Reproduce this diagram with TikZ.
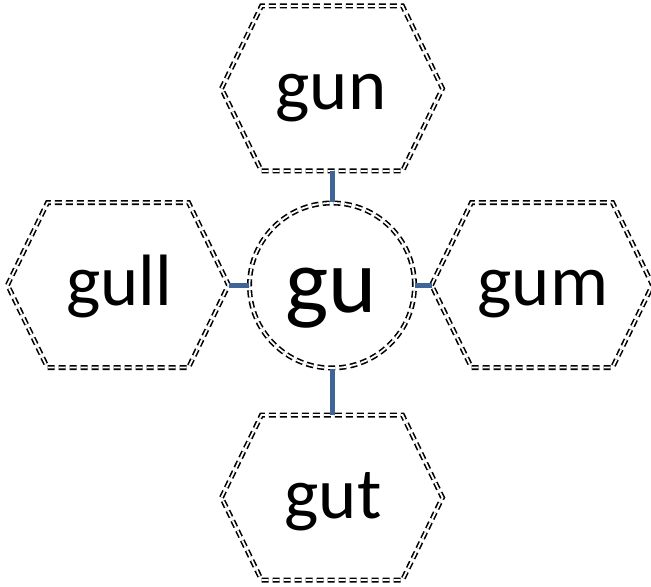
\documentclass[tikz,border=0pt]{standalone}
\usepackage{fontspec}
\setmainfont{Carlito}
\definecolor{linkblue}{RGB}{62,100,152}
\tikzset{
  dd/.style={draw=black, line width=1.6bp, double=white, double distance=1.8bp, dash pattern=on 7bp off 4bp},
  lbl/.style={font=\fontsize{73}{78}\selectfont, inner sep=0pt, anchor=base},
  link/.style={draw=linkblue, line width=5bp},
}
\newcommand\hexshape[3]{%
  \begin{scope}[shift={(#1,#2)}]
    \draw[dd] (-110.5,0) -- (-70.5,-82.5) -- (70.5,-82.5) -- (110.5,0) -- (70.5,82.5) -- (-70.5,82.5) -- cycle;
    \coordinate (#3-n) at (0,-82.5);
    \coordinate (#3-s) at (0,82.5);
    \coordinate (#3-w) at (-110.5,0);
    \coordinate (#3-e) at (110.5,0);
  \end{scope}}
\begin{document}
\begin{tikzpicture}[x=1bp,y=-1bp]
\useasboundingbox (0,0) rectangle (651,587);
\hexshape{332}{88.5}{top}
\hexshape{118}{285}{left}
\hexshape{542}{285}{right}
\hexshape{332}{497.5}{bot}
\node[lbl] (gun) at (331,110) {gun};
\node[lbl] (gull) at (119,305) {gull};
\node[lbl] (gum) at (543,305) {gum};
\node[lbl] (gut) at (333,518) {gut};
\node[dd, circle, minimum size=165bp, inner sep=0pt] (gu) at (332,285.5) {};
\node[font=\fontsize{92}{96}\selectfont, inner sep=0pt, anchor=base] (gutext) at (331,312) {gu};
\draw[link] (top-s) -- (gu.north);
\draw[link] (gu.south) -- (bot-n);
\draw[link] (left-e |- gu.west) -- (gu.west);
\draw[link] (gu.east) -- (right-w |- gu.east);
\end{tikzpicture}
\end{document}
